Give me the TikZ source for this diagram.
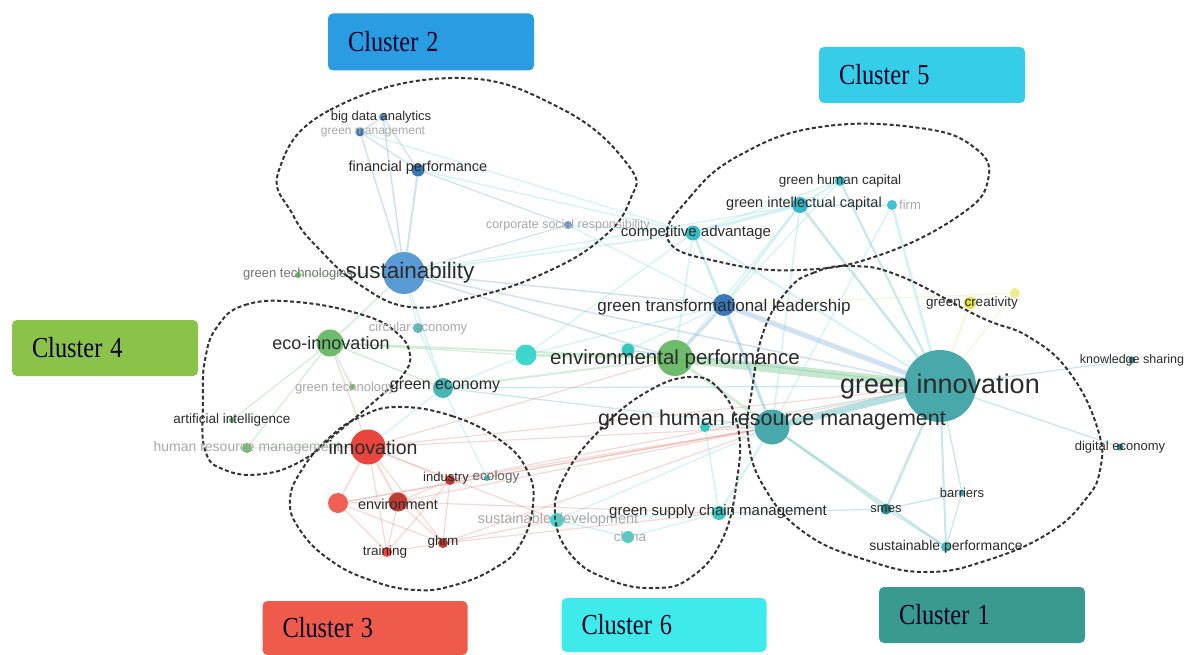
\documentclass[tikz,border=0pt]{standalone}
\usepackage{fontspec}
\setmainfont{Liberation Sans}
\newfontfamily\boxfont{Liberation Serif}
\usetikzlibrary{backgrounds}
\newcommand\fsz[1]{\fontsize{#1}{#1}\selectfont}
\newcommand\cltxt[1]{\scalebox{0.84}[1]{#1}}
\definecolor{cbA}{HTML}{2A9DE2}
\definecolor{cbB}{HTML}{36CDE8}
\definecolor{cbC}{HTML}{8BC34A}
\definecolor{cbD}{HTML}{EF5B4B}
\definecolor{cbE}{HTML}{3FEAEA}
\definecolor{cbF}{HTML}{3A9A8F}
\definecolor{nBlue}{HTML}{5B9BD5}
\definecolor{nDBlue}{HTML}{3A78B8}
\definecolor{nCyan}{HTML}{3EC3D5}
\definecolor{nGreen}{HTML}{6DBB6B}
\definecolor{nRed}{HTML}{E8453C}
\definecolor{nLRed}{HTML}{F06055}
\definecolor{nDRed}{HTML}{B83A30}
\definecolor{nTeal}{HTML}{48A8AA}
\definecolor{nDTeal}{HTML}{2E8A8C}
\definecolor{nAqua}{HTML}{3ED6CC}
\definecolor{nYel}{HTML}{E2E23C}
\definecolor{labc}{HTML}{2B2B2B}
\definecolor{faint}{HTML}{A8A8A8}
\definecolor{eTeal}{HTML}{6CC0C4}
\definecolor{eGreen}{HTML}{8FD09A}
\definecolor{eBlue}{HTML}{86B2DA}
\definecolor{eRed}{HTML}{EE9A90}
\definecolor{eCyan}{HTML}{8EDDE6}
\definecolor{eYel}{HTML}{E6E69A}
\tikzset{
  x=1pt, y=-1pt,
  dot/.style={circle, inner sep=0pt, minimum size=#1},
  lab/.style={inner sep=0pt, text=labc, anchor=center},
  flab/.style={inner sep=0pt, text=faint, anchor=center},
  ed/.style={line width=1.2pt, draw opacity=0.38},
  loopline/.style={draw=black!80, line width=2pt, dash pattern=on 4pt off 2.5pt},
  cbox/.style={rounded corners=5pt, inner xsep=20pt, inner ysep=0pt, align=left,
    font=\boxfont\fsz{29}, text=black!85!blue},
}
\begin{document}
\begin{tikzpicture}
\useasboundingbox (0,0) rectangle (1196,655);

% ---------- nodes (circles) ----------
% cluster 2
\node[dot=42pt, fill=nBlue] (sust) at (404,273) {};
\node[dot=13pt, fill=nDBlue] (fp) at (418,170) {};
\node[dot=8pt, fill=nBlue] (bda) at (383,117) {};
\node[dot=9pt, fill=nDBlue] (gm) at (360,132) {};
\node[dot=8pt, fill=nDBlue!80] (csr) at (568,225) {};
\node[dot=22pt, fill=nDBlue] (gtl) at (724,305) {};
% cluster 5
\node[dot=15pt, fill=nCyan!90!teal] (ca) at (693,233) {};
\node[dot=16pt, fill=nCyan!85!teal] (gic) at (800,205) {};
\node[dot=10pt, fill=nCyan!80!teal] (ghc) at (840,181) {};
\node[dot=10pt, fill=nCyan] (firm) at (892,205) {};
% cluster 4
\node[dot=36pt, fill=nGreen] (envp) at (675,358) {};
\node[dot=27pt, fill=nGreen] (eco) at (330,343) {};
\node[dot=6pt, fill=nGreen] (gt1) at (298,275) {};
\node[dot=6pt, fill=nGreen] (gt2) at (352,387) {};
\node[dot=6pt, fill=nGreen] (ai) at (232,420) {};
\node[dot=10pt, fill=nGreen] (hrm) at (247,448) {};
% cluster 6
\node[dot=20pt, fill=nTeal!70!nAqua] (geco) at (443,388) {};
\node[dot=10pt, fill=nTeal!60!nAqua] (ce) at (418,328) {};
\node[dot=21pt, fill=nAqua] (c6a) at (526,355) {};
\node[dot=13pt, fill=nAqua!85!teal] (c6b) at (628,350) {};
\node[dot=14pt, fill=nAqua] (sd) at (557,520) {};
\node[dot=12pt, fill=nAqua] (china) at (628,537) {};
\node[dot=14pt, fill=nAqua!85!teal] (gscm) at (719,513) {};
\node[dot=10pt, fill=nAqua!85!teal] (c6c) at (705,427) {};
% cluster 3
\node[dot=35pt, fill=nRed] (innov) at (368,447) {};
\node[dot=19pt, fill=nDRed!85!nRed] (env) at (398,502) {};
\node[dot=20pt, fill=nLRed] (c3a) at (338,503) {};
\node[dot=10pt, fill=nDRed] (ind) at (450,480) {};
\node[dot=6pt, fill=nAqua!80!teal] (ecol) at (487,478) {};
\node[dot=10pt, fill=nDRed] (ghrmr) at (443,543) {};
\node[dot=10pt, fill=nRed] (train) at (387,552) {};
% cluster 1
\node[dot=72pt, fill=nTeal] (gi) at (940,386) {};
\node[dot=35pt, fill=nTeal] (ghrm) at (772,427) {};
\node[dot=11pt, fill=nDTeal] (smes) at (886,509) {};
\node[dot=6pt, fill=nTeal] (bar) at (962,493) {};
\node[dot=10pt, fill=nTeal!60!nAqua] (sp) at (946,547) {};
\node[dot=7pt, fill=nDTeal] (de) at (1120,447) {};
\node[dot=7pt, fill=nDTeal] (ks) at (1132,360) {};
\node[dot=12pt, fill=nYel] (gcr) at (970,303) {};
\node[dot=10pt, fill=nYel!60] (gcr2) at (1015,293) {};

% ---------- connectors ----------
\begin{scope}[on background layer]
\fill[white] (0,0) rectangle (1196,655);
\draw[ed, eGreen, line width=9pt, draw opacity=0.5] (gi) -- (envp);
\draw[ed, eTeal, line width=7pt, draw opacity=0.5] (gi) -- (ghrm);
\draw[ed, eBlue, line width=5pt] (gi) -- (gtl);
\draw[ed, eTeal, line width=2.5pt] (gi) -- (gic);
\draw[ed, eCyan, line width=2.5pt] (gi) -- (firm);
\draw[ed, eTeal, line width=2pt] (gi) -- (ghc);
\draw[ed, eCyan, line width=2pt] (gi) -- (ca);
\draw[ed, eTeal, line width=2.5pt] (gi) -- (smes);
\draw[ed, eTeal, line width=2pt] (gi) -- (sp);
\draw[ed, eTeal] (gi) -- (bar);
\draw[ed, eTeal] (gi) -- (de);
\draw[ed, eTeal] (gi) -- (ks);
\draw[ed, eYel, line width=1.5pt] (gi) -- (gcr);
\draw[ed, eYel] (gi) -- (gcr2);
\draw[ed, eYel] (gtl) -- (gcr2);
\draw[ed, eBlue, line width=1.5pt] (gi) -- (sust);
\draw[ed, eTeal] (gi) -- (geco);
\draw[ed, eTeal] (gi) -- (c6c);
\draw[ed, eTeal, line width=2pt] (ghrm) -- (smes);
\draw[ed, eTeal, line width=2pt] (ghrm) -- (sp);
\draw[ed, eGreen, line width=3pt] (ghrm) -- (envp);
\draw[ed, eBlue, line width=3pt] (ghrm) -- (gtl);
\draw[ed, eCyan, line width=2pt] (ghrm) -- (gscm);
\draw[ed, eCyan, line width=1.5pt] (ghrm) -- (gic);
\draw[ed, eCyan] (ghrm) -- (ca);
\draw[ed, eRed] (ghrm) -- (innov);
\draw[ed, eRed] (ghrm) -- (env);
\draw[ed, eRed] (ghrm) -- (ghrmr);
\draw[ed, eRed] (ghrm) -- (ind);
\draw[ed, eRed] (ghrm) -- (c3a);
\draw[ed, eCyan] (ghrm) -- (sd);
\draw[ed, eCyan] (ghrm) -- (c6c);
\draw[ed, eTeal] (ghrm) -- (geco);
\draw[ed, eBlue, line width=3pt] (gtl) -- (envp);
\draw[ed, eCyan, line width=2pt] (gtl) -- (ca);
\draw[ed, eCyan, line width=2pt] (gtl) -- (gic);
\draw[ed, eBlue, line width=1.5pt] (gtl) -- (sust);
\draw[ed, eCyan] (gtl) -- (ghc);
\draw[ed, eCyan] (gtl) -- (c6a);
\draw[ed, eCyan] (gtl) -- (c6b);
\draw[ed, eGreen, line width=3pt] (envp) -- (c6a);
\draw[ed, eGreen, line width=2pt] (envp) -- (eco);
\draw[ed, eGreen, line width=2pt] (envp) -- (geco);
\draw[ed, eBlue, line width=1.5pt] (envp) -- (sust);
\draw[ed, eCyan, line width=1.5pt] (envp) -- (ca);
\draw[ed, eCyan] (envp) -- (gic);
\draw[ed, eCyan] (envp) -- (c6b);
\draw[ed, eRed] (envp) -- (innov);
\draw[ed, eBlue, line width=2pt] (sust) -- (fp);
\draw[ed, eBlue, line width=1.5pt] (sust) -- (bda);
\draw[ed, eBlue, line width=1.5pt] (sust) -- (gm);
\draw[ed, eBlue] (sust) -- (csr);
\draw[ed, eCyan, line width=1.5pt] (sust) -- (ca);
\draw[ed, eGreen, line width=1.5pt] (sust) -- (eco);
\draw[ed, eCyan, line width=1.5pt] (sust) -- (geco);
\draw[ed, eGreen] (sust) -- (gt1);
\draw[ed, eCyan] (sust) -- (ce);
\draw[ed, eCyan] (sust) -- (gic);
\draw[ed, eBlue] (fp) -- (bda);
\draw[ed, eBlue] (fp) -- (gm);
\draw[ed, eBlue] (fp) -- (csr);
\draw[ed, eCyan] (fp) -- (ca);
\draw[ed, eBlue] (bda) -- (gm);
\draw[ed, eCyan] (gm) -- (ca);
\draw[ed, eCyan] (csr) -- (ca);
\draw[ed, eCyan] (csr) -- (gtl);
\draw[ed, eCyan, line width=3pt] (ca) -- (gic);
\draw[ed, eCyan] (ca) -- (ghc);
\draw[ed, eCyan, line width=2pt] (gic) -- (ghc);
\draw[ed, eCyan] (gic) -- (firm);
\draw[ed, eCyan] (ca) -- (c6a);
\draw[ed, eCyan] (firm) -- (ghrm);
\draw[ed, eGreen, line width=1.5pt] (eco) -- (geco);
\draw[ed, eRed] (eco) -- (innov);
\draw[ed, eGreen] (eco) -- (ai);
\draw[ed, eGreen] (eco) -- (hrm);
\draw[ed, eGreen] (eco) -- (gt2);
\draw[ed, eGreen] (eco) -- (c6a);
\draw[ed, eCyan] (geco) -- (innov);
\draw[ed, eCyan] (geco) -- (ecol);
\draw[ed, eCyan] (geco) -- (c6a);
\draw[ed, eCyan] (geco) -- (ce);
\draw[ed, eGreen] (hrm) -- (innov);
\draw[ed, eRed, line width=2pt] (innov) -- (env);
\draw[ed, eRed, line width=1.5pt] (innov) -- (c3a);
\draw[ed, eRed] (innov) -- (train);
\draw[ed, eRed] (innov) -- (ghrmr);
\draw[ed, eRed] (innov) -- (ind);
\draw[ed, eRed] (innov) -- (sd);
\draw[ed, eRed] (innov) -- (gi);
\draw[ed, eRed] (env) -- (c3a);
\draw[ed, eRed] (env) -- (train);
\draw[ed, eRed] (env) -- (ghrmr);
\draw[ed, eRed] (env) -- (ind);
\draw[ed, eRed] (env) -- (gscm);
\draw[ed, eRed] (c3a) -- (train);
\draw[ed, eRed] (c3a) -- (ghrmr);
\draw[ed, eRed] (train) -- (ghrmr);
\draw[ed, eRed] (ind) -- (ghrmr);
\draw[ed, eRed] (ind) -- (train);
\draw[ed, eRed] (ghrmr) -- (gscm);
\draw[ed, eRed] (ghrmr) -- (sd);
\draw[ed, eRed] (c3a) -- (ghrm);
\draw[ed, eRed] (ind) -- (gi);
\draw[ed, eCyan, line width=1.5pt] (sd) -- (china);
\draw[ed, eCyan] (sd) -- (gscm);
\draw[ed, eCyan] (china) -- (gscm);
\draw[ed, eCyan, line width=1.5pt] (gscm) -- (c6c);
\draw[ed, eTeal] (gscm) -- (smes);
\draw[ed, eTeal] (smes) -- (sp);
\draw[ed, eTeal] (smes) -- (bar);
\draw[ed, eTeal] (bar) -- (sp);
\draw[ed, eTeal] (gi) -- (c6b);
\end{scope}

% ---------- dashed cluster outlines ----------
\draw[loopline] plot[smooth cycle, tension=0.75] coordinates {
 (279,170) (330,110) (454,78) (560,108) (628,165) (630,200) (600,240) (540,275) (470,298) (410,307) (360,285) (320,250) (293,215)};
\draw[loopline] plot[smooth cycle, tension=0.75] coordinates {
 (668,240) (690,197) (740,155) (820,127) (920,128) (975,148) (988,180) (960,215) (880,255) (800,270) (720,262)};
\draw[loopline] plot[smooth cycle, tension=0.75] coordinates {
 (788,290) (813,273) (850,266) (900,276) (980,317) (1029,337) (1070,373) (1098,430) (1100,470) (1085,500) (1049,533) (988,560) (927,572) (866,560) (805,533) (764,487) (748,437) (752,390) (764,330)};
\draw[loopline] plot[smooth cycle, tension=0.75] coordinates {
 (690,377) (720,390) (738,428) (737,480) (722,540) (690,578) (654,588) (610,580) (572,556) (555,515) (566,474) (600,430) (645,393)};
\draw[loopline] plot[smooth cycle, tension=0.75] coordinates {
 (397,407) (452,416) (500,440) (527,470) (533,505) (520,545) (495,568) (455,585) (415,590) (370,580) (330,560) (300,530) (290,500) (303,468) (330,437) (360,417)};
\draw[loopline] plot[smooth cycle, tension=0.75] coordinates {
 (217,327) (245,305) (297,302) (363,315) (397,333) (410,355) (403,375) (383,394) (337,433) (303,460) (263,474) (225,470) (205,450) (203,400) (205,360)};

% ---------- labels ----------
\node[flab, font=\fsz{12}] (gm-l) at (373,132) {green management};
\node[lab, font=\fsz{13}] (bda-l) at (381,117) {big data analytics};
\node[lab, font=\fsz{14.5}] (fp-l) at (418,168) {financial performance};
\node[flab, font=\fsz{12.5}] (csr-l) at (568,225) {corporate social responsibility};
\node[lab, font=\fsz{13}, text=black!55] (gt1-l) at (298,274) {green technologies};
\node[lab, font=\fsz{22.5}] (sust-l) at (410,273) {sustainability};
\node[lab, font=\fsz{15}] (ca-l) at (696,233) {competitive advantage};
\node[lab, font=\fsz{14.5}] (gic-l) at (804,204) {green intellectual capital};
\node[flab, font=\fsz{13}] (firm-l) at (910,205) {firm};
\node[lab, font=\fsz{13.5}] (ghc-l) at (840,181) {green human capital};
\node[lab, font=\fsz{17}] (gtl-l) at (724,307) {green transformational leadership};
\node[lab, font=\fsz{13.5}] (gcr-l) at (972,303) {green creativity};
\node[flab, font=\fsz{13}] (ce-l) at (418,328) {circular economy};
\node[lab, font=\fsz{18}] (eco-l) at (331,343) {eco-innovation};
\node[flab, font=\fsz{13}] (gt2-l) at (345,388) {green technology};
\node[lab, font=\fsz{16}] (geco-l) at (445,387) {green economy};
\node[lab, font=\fsz{20.5}] (envp-l) at (675,359) {environmental performance};
\node[lab, font=\fsz{12.5}] (ks-l) at (1132,360) {knowledge sharing};
\node[lab, font=\fsz{27}] (gi-l) at (940,387) {green innovation};
\node[lab, font=\fsz{21.5}] (ghrm-l) at (772,420) {green human resource management};
\node[lab, font=\fsz{13}] (de-l) at (1120,447) {digital economy};
\node[lab, font=\fsz{13.5}] (ai-l) at (232,420) {artificial intelligence};
\node[flab, font=\fsz{14}] (hrm-l) at (247,448) {human resource management};
\node[lab, font=\fsz{19.5}] (innov-l) at (373,448) {innovation};
\node[lab, font=\fsz{13}] (ind-l) at (446,478) {industry};
\node[lab, font=\fsz{13.5}, text=black!60] (ecol-l) at (496,477) {ecology};
\node[lab, font=\fsz{14.5}] (env-l) at (398,504) {environment};
\node[lab, font=\fsz{13.5}] (ghrmr-l) at (443,542) {ghrm};
\node[lab, font=\fsz{13.5}] (train-l) at (385,552) {training};
\node[flab, font=\fsz{14.5}] (sd-l) at (558,520) {sustainable development};
\node[flab, font=\fsz{13.5}] (china-l) at (630,537) {china};
\node[lab, font=\fsz{15}] (gscm-l) at (718,512) {green supply chain management};
\node[lab, font=\fsz{13}] (bar-l) at (962,493) {barriers};
\node[lab, font=\fsz{13}] (smes-l) at (886,509) {smes};
\node[lab, font=\fsz{14}] (sp-l) at (946,547) {sustainable performance};

% ---------- cluster boxes ----------
\node[cbox, fill=cbA, minimum width=206pt, minimum height=57pt, text width=166pt] (box2) at (431,42) {\cltxt{Cluster 2}};
\node[cbox, fill=cbB, minimum width=206pt, minimum height=56pt, text width=166pt] (box5) at (922,75) {\cltxt{Cluster 5}};
\node[cbox, fill=cbC, minimum width=186pt, minimum height=56pt, text width=146pt] (box4) at (105,348) {\cltxt{Cluster 4}};
\node[cbox, fill=cbD, minimum width=205pt, minimum height=54pt, text width=165pt] (box3) at (365,628) {\cltxt{Cluster 3}};
\node[cbox, fill=cbE, minimum width=205pt, minimum height=54pt, text width=165pt] (box6) at (664,625) {\cltxt{Cluster 6}};
\node[cbox, fill=cbF, minimum width=206pt, minimum height=56pt, text width=166pt] (box1) at (982,615) {\cltxt{Cluster 1}};
\end{tikzpicture}
\end{document}
